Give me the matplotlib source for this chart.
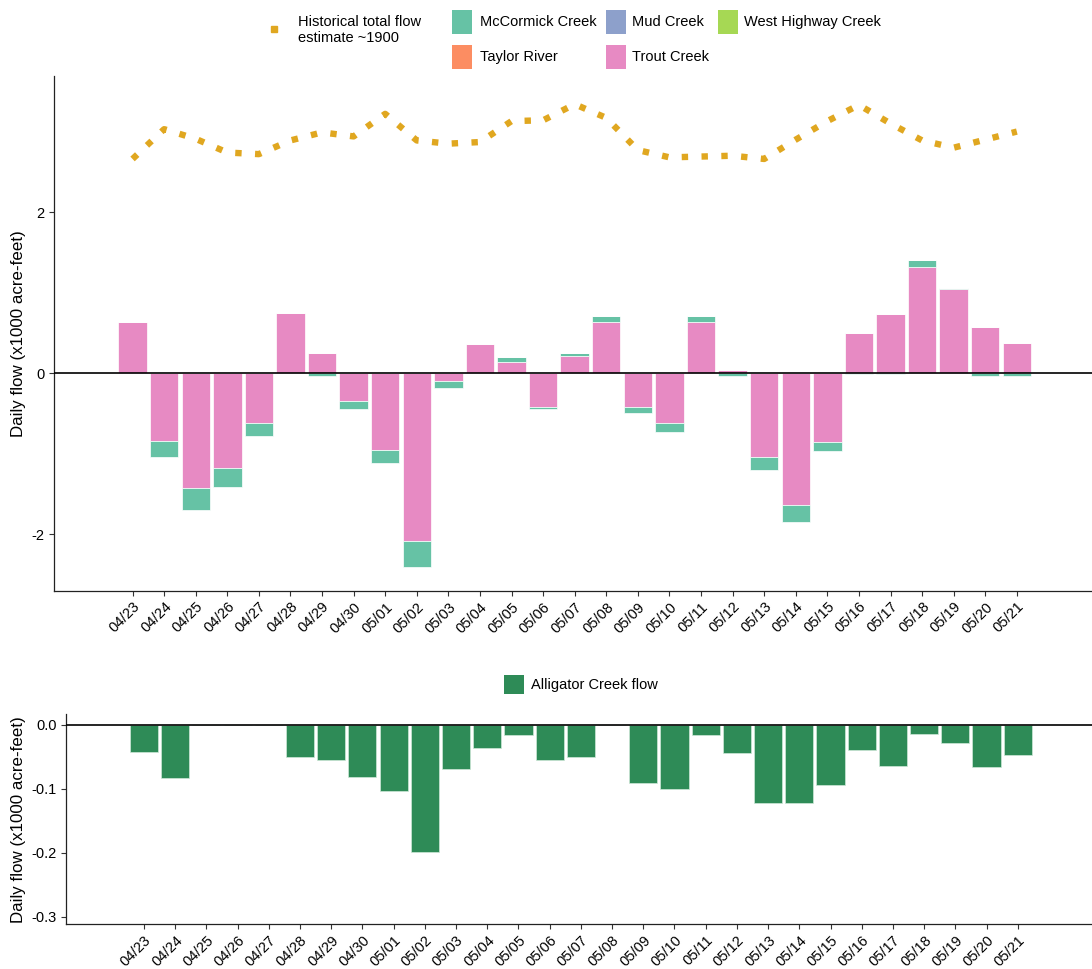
import numpy as np
import matplotlib
matplotlib.use("Agg")
import matplotlib.pyplot as plt
from matplotlib.patches import Rectangle
from matplotlib.lines import Line2D

plt.rcParams['font.family'] = ['Liberation Sans', 'DejaVu Sans']
plt.rcParams['axes.unicode_minus'] = False

# Daily flows, x1000 acre-feet
dates = ['04/23', '04/24', '04/25', '04/26', '04/27', '04/28', '04/29', '04/30',
         '05/01', '05/02', '05/03', '05/04', '05/05', '05/06', '05/07', '05/08',
         '05/09', '05/10', '05/11', '05/12', '05/13', '05/14', '05/15', '05/16',
         '05/17', '05/18', '05/19', '05/20', '05/21']

trout = [0.63, -0.845, -1.43, -1.18, -0.62, 0.75, 0.25, -0.35,
         -0.95, -2.08, -0.10, 0.36, 0.14, -0.42, 0.22, 0.64,
         -0.42, -0.62, 0.64, 0.045, -1.04, -1.64, -0.85, 0.50,
         0.73, 1.32, 1.04, 0.57, 0.38]
mccormick = [0.0, -0.19, -0.27, -0.23, -0.16, 0.0, -0.035, -0.10,
             -0.17, -0.33, -0.08, 0.0, 0.06, -0.03, 0.03, 0.07,
             -0.08, -0.11, 0.07, -0.03, -0.16, -0.21, -0.12, -0.005,
             -0.01, 0.09, 0.02, -0.03, -0.03]
mud = [0.0] * 29
west_highway = [0.0] * 29
taylor = [0.0] * 29

historical = [2.66, 3.03, 2.91, 2.74, 2.72, 2.89, 2.99, 2.94,
              3.22, 2.89, 2.85, 2.87, 3.13, 3.14, 3.34, 3.17,
              2.77, 2.68, 2.69, 2.70, 2.66, 2.90, 3.13, 3.33,
              3.10, 2.89, 2.80, 2.90, 3.00]

alligator = [-0.043, -0.083, 0.0, 0.0, 0.0, -0.050, -0.056, -0.081,
             -0.103, -0.198, -0.069, -0.037, -0.017, -0.056, -0.050, 0.0,
             -0.091, -0.100, -0.016, -0.045, -0.122, -0.123, -0.094, -0.039,
             -0.064, -0.014, -0.028, -0.066, -0.047]

series = [
    ('Trout Creek', trout, '#E78AC3'),
    ('McCormick Creek', mccormick, '#66C2A5'),
    ('Mud Creek', mud, '#8DA0CB'),
    ('West Highway Creek', west_highway, '#A6D854'),
    ('Taylor River', taylor, '#FC8D62'),
]

W, H = 1092, 969
fig = plt.figure(figsize=(W / 100, H / 100), dpi=100)

x = np.arange(len(dates))
bar_w = 0.9


def style_axes(ax):
    ax.spines['top'].set_visible(False)
    ax.spines['right'].set_visible(False)
    for s in ('left', 'bottom'):
        ax.spines[s].set_color('#222222')
        ax.spines[s].set_linewidth(0.9)
    ax.tick_params(axis='both', length=3.5, width=0.8, color='#333333',
                   labelsize=10.5, labelcolor='black', pad=3)
    ax.set_xticks(x)
    ax.set_xticklabels(dates, rotation=45, ha='right', va='top',
                       rotation_mode='anchor')
    ax.set_xlim(-2.5, 30.38)
    ax.axhline(0, color='black', lw=1.2, zorder=5)


# Stacked creek flows (positive and negative stacks kept apart)
ax1 = fig.add_axes([53.6 / W, 1 - 590.7 / H, (W - 53.6) / W, (590.7 - 76) / H])
pos = np.zeros(len(x))
neg = np.zeros(len(x))
for name, vals, col in series:
    v = np.array(vals)
    bottoms = np.where(v >= 0, pos, neg)
    ax1.bar(x, v, width=bar_w, bottom=bottoms, color=col,
            edgecolor='white', linewidth=0.5, zorder=2)
    pos += np.where(v >= 0, v, 0)
    neg += np.where(v < 0, v, 0)

ax1.plot(x, historical, color='#E0A720', lw=4.6, linestyle=(0, (1, 2.1)),
         dash_capstyle='butt', zorder=3)
style_axes(ax1)
ax1.set_ylim(-2.70, 3.69)
ax1.set_yticks([-2, 0, 2])
ax1.set_yticklabels(['-2', '0', '2'])
ax1.set_ylabel('Daily flow (x1000 acre-feet)', fontsize=12.2)
ax1.yaxis.set_label_coords((26 - 53.6) / (W - 53.6), 0.5)

# Alligator Creek flow
ax2 = fig.add_axes([66 / W, 1 - 924 / H, (W - 66) / W, (924 - 714.3) / H])
ax2.bar(x, alligator, width=bar_w, color='#2E8B57',
        edgecolor='#CFE8D8', linewidth=0.5, zorder=2)
style_axes(ax2)
ax2.set_ylim(-0.311, 0.016)
ax2.set_yticks([-0.3, -0.2, -0.1, 0.0])
ax2.set_yticklabels(['-0.3', '-0.2', '-0.1', '0.0'])
ax2.set_ylabel('Daily flow (x1000 acre-feet)', fontsize=12.2)
ax2.yaxis.set_label_coords((26 - 66) / (W - 66), 0.5)


# Legends laid out in pixel positions
def key(x0, y0, w, h, color):
    fig.add_artist(Rectangle((x0 / W, 1 - (y0 + h) / H), w / W, h / H,
                             transform=fig.transFigure, facecolor=color,
                             edgecolor='none'))


def label(x0, yc, text):
    fig.text(x0 / W, 1 - yc / H, text, ha='left', va='center',
             fontsize=10.5, linespacing=1.25)


fig.add_artist(Line2D([273.6 / W], [1 - 28.5 / H], marker='s', markersize=4,
                      color='#E0A720', transform=fig.transFigure))
label(298, 30, 'Historical total flow\nestimate ~1900')

key(452, 10, 20, 24, '#66C2A5')
label(480, 22, 'McCormick Creek')
key(605.6, 10, 20, 24, '#8DA0CB')
label(632, 22, 'Mud Creek')
key(717.6, 10, 20, 24, '#A6D854')
label(744, 22, 'West Highway Creek')
key(452, 45, 20, 24, '#FC8D62')
label(480, 57, 'Taylor River')
key(605.6, 45, 20, 24, '#E78AC3')
label(632, 57, 'Trout Creek')

key(504, 674.5, 20, 19, '#2E8B57')
label(531, 685.5, 'Alligator Creek flow')

fig.savefig('out.png', dpi=100)
